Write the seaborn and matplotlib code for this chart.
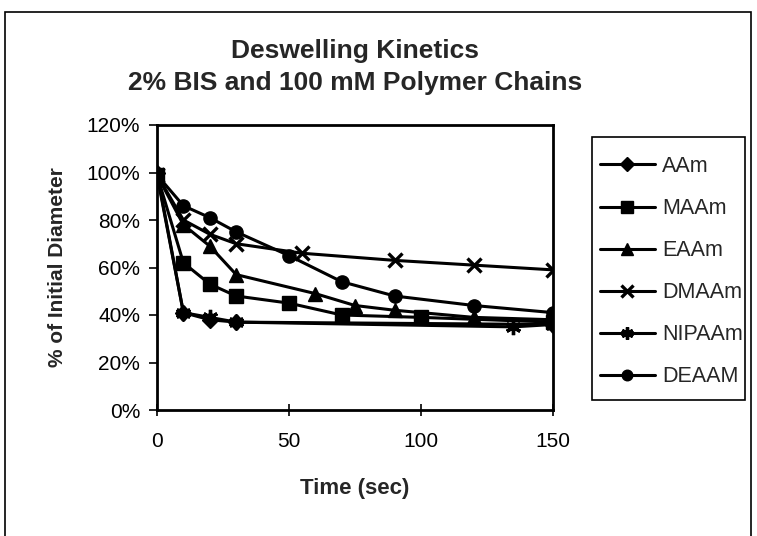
import matplotlib
matplotlib.use("Agg")
import matplotlib.pyplot as plt
from matplotlib.patches import Rectangle
from matplotlib.ticker import PercentFormatter
import seaborn as sns
import pandas as pd

# Deswelling data: % of initial diameter vs. time (sec)
aam_t = [0, 10, 20, 30, 150]
aam_v = [100, 41, 38, 37, 36]

maam_t = [0, 10, 20, 30, 50, 70, 100, 150]
maam_v = [99, 62, 53, 48, 45, 40, 39, 37]

eaam_t = [0, 10, 20, 30, 60, 75, 90, 120, 150]
eaam_v = [99, 78, 69, 57, 49, 44, 42, 39, 38]

dmaam_t = [0, 10, 20, 30, 55, 90, 120, 150]
dmaam_v = [99, 80, 74, 70, 66, 63, 61, 59]

nipaam_t = [0, 10, 20, 30, 135, 150]
nipaam_v = [99, 41, 39, 37, 35, 36]

deaam_t = [0, 10, 20, 30, 50, 70, 90, 120, 150]
deaam_v = [99, 86, 81, 75, 65, 54, 48, 44, 41]

series_names = ["AAm", "MAAm", "EAAm", "DMAAm", "NIPAAm", "DEAAM"]
series_times = [aam_t, maam_t, eaam_t, dmaam_t, nipaam_t, deaam_t]
series_vals = [aam_v, maam_v, eaam_v, dmaam_v, nipaam_v, deaam_v]

sns.set_style("white")
plt.rcParams["font.family"] = ["Liberation Sans", "DejaVu Sans"]

W, H = 757, 536
fig = plt.figure(figsize=(W / 100, H / 100), dpi=100)
ax = fig.add_axes([157 / W, 1 - 410 / H, 396 / W, 285 / H])

markers = {"AAm": "D", "MAAm": "s", "EAAm": "^", "DMAAm": "x",
           "NIPAAm": (6, 2, 0), "DEAAM": "o"}
sizes = {"AAm": 8.5, "MAAm": 10, "EAAm": 10, "DMAAm": 10, "NIPAAm": 11, "DEAAM": 9.5}
line_art = ("DMAAm", "NIPAAm")

for name, t, v in zip(series_names, series_times, series_vals):
    d = pd.DataFrame({"Time": t, "Pct": v})
    sns.lineplot(data=d, x="Time", y="Pct", color="black",
                 marker=markers[name], markersize=sizes[name],
                 markeredgewidth=2.4 if name in line_art else 1,
                 markeredgecolor="black", markerfacecolor="black",
                 linewidth=2.2, ax=ax, sort=False, label=name)

ax.set_xlim(0, 150)
ax.set_ylim(0, 120)
ax.set_xticks([0, 50, 100, 150])
ax.set_yticks([0, 20, 40, 60, 80, 100, 120])
ax.yaxis.set_major_formatter(PercentFormatter(decimals=0))
ax.tick_params(axis="x", direction="inout", length=9, width=1.2,
               labelsize=15, pad=11, colors="black")
ax.tick_params(axis="y", direction="out", length=6, width=1.2,
               labelsize=15, pad=6, colors="black")
ax.tick_params(left=True, bottom=True)
for s in ax.spines.values():
    s.set_visible(True)
    s.set_color("black")
    s.set_linewidth(2)

ax.set_xlabel("Time (sec)", fontsize=16, fontweight="bold", labelpad=20)
ax.set_ylabel("% of Initial Diameter", fontsize=15, fontweight="bold", labelpad=14)

fig.text((157 + 553) / 2 / W, 1 - 67 / H,
         "Deswelling Kinetics\n2% BIS and 100 mM Polymer Chains",
         ha="center", va="center", fontsize=19, fontweight="bold",
         linespacing=1.4)

# legend placed outside the plot area on the right, inside its own box
handles, labels = ax.get_legend_handles_labels()
ax.get_legend().remove()
leg = fig.legend(handles, labels, loc="upper left",
                 bbox_to_anchor=(600 / W, 1 - 156 / H),
                 frameon=False, fontsize=15.5, handlelength=2.55,
                 labelspacing=0.98, borderpad=0, handletextpad=0.33,
                 borderaxespad=0, markerscale=0.8)
fig.patches.append(Rectangle((592 / W, 1 - 400 / H), 153 / W, 263 / H,
                             transform=fig.transFigure, fill=False,
                             edgecolor="black", linewidth=1.2))

# outer chart border
fig.patches.append(Rectangle((5 / W, -0.05), 746 / W, 1.05 - 12 / H,
                             transform=fig.transFigure, fill=False,
                             edgecolor="black", linewidth=1.2))

fig.savefig("out.png", dpi=100)
